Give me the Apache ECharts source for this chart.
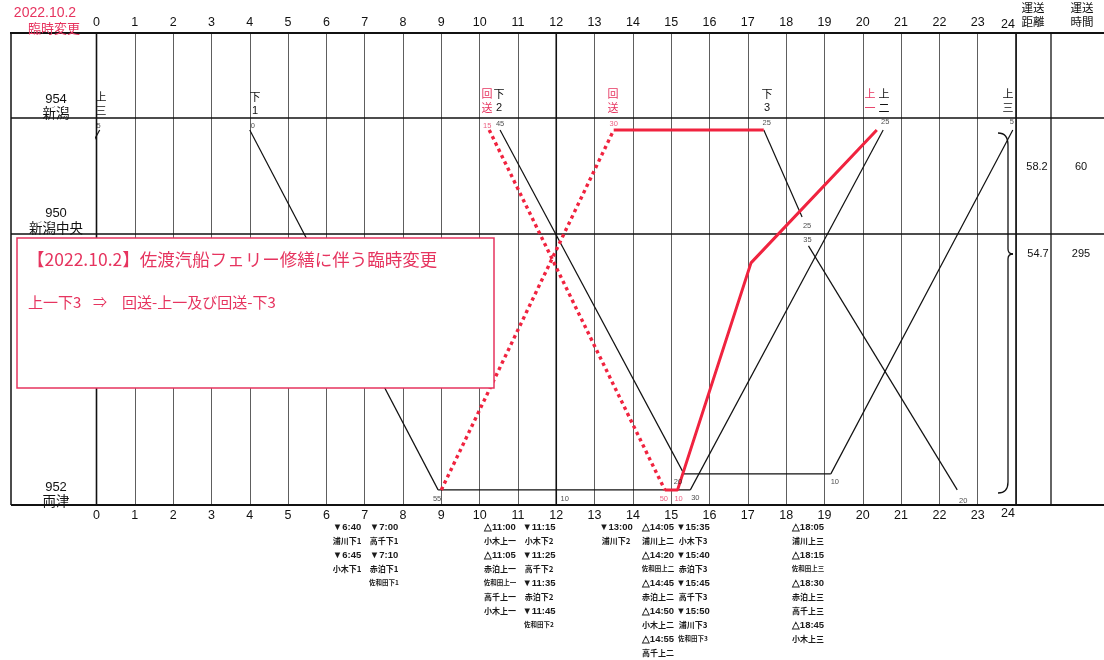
<!DOCTYPE html>
<html><head><meta charset="utf-8">
<script src="https://cdn.jsdelivr.net/npm/echarts@6/dist/echarts.min.js"></script>
<style>html,body{margin:0;padding:0;background:#fff}#c{width:1104px;height:660px}</style>
</head><body><div id="c"></div>
<script>
// ---- tick labels ----
const hourLabels = ['0','1','2','3','4','5','6','7','8','9','10','11','12','13','14','15','16','17','18','19','20','21','22','23','24'];

// ---- station / row levels (position on the vertical scale, 0 = top border, 100 = bottom border) ----
const levelNames  = ['niigata','niigataDep','chuoArr','chuo','chuoDep','redBend','ryotsuUp','ryotsuLow'];
const levelValues = [18.0, 20.55, 39.0, 42.6, 45.1, 48.7, 93.4, 96.8];

const stationCodes = ['954','950','952'];
const stationNames = ['新潟','新潟中央','両津'];

// ---- regular (black) runs: [time, level] ----
const tripJo3Prev = [['-4:50','ryotsuUp'],['0:05','niigataDep']];
const tripGe1     = [['4:00','niigataDep'],['8:55','ryotsuLow']];
const berthLow    = [['8:55','ryotsuLow'],['15:30','ryotsuLow']];
const tripGe2     = [['10:32','niigataDep'],['15:20','ryotsuUp']];
const tripJo2     = [['15:30','ryotsuLow'],['20:32','niigataDep']];
const berthUp     = [['15:20','ryotsuUp'],['19:10','ryotsuUp']];
const tripJo3     = [['19:10','ryotsuUp'],['23:55','niigataDep']];
const tripGe3a    = [['17:25','niigataDep'],['18:25','chuoArr']];
const tripGe3b    = [['18:35','chuoDep'],['22:28','ryotsuLow']];

// ---- temporary change (red) runs ----
const deadheadA   = [['10:15','niigataDep'],['14:50','ryotsuLow']];
const deadheadB   = [['9:00','ryotsuLow'],['13:30','niigataDep']];
const redWait     = [['13:30','niigataDep'],['17:25','niigataDep']];
const redJo1      = [['14:50','ryotsuLow'],['15:10','ryotsuLow'],['17:05','redBend'],['20:22','niigataDep']];

// ---- minute labels: [time, level, text, colour, dx, dy] ----
const minuteLabels = [
  ['0:05','niigataDep','5','k',-1,-4],
  ['4:00','niigataDep','0','k',3,-4],
  ['10:15','niigataDep','15','r',-2,-4],
  ['10:32','niigataDep','45','k',0,-6],
  ['13:30','niigataDep','30','r',0,-6],
  ['17:25','niigataDep','25','k',3,-7],
  ['18:25','chuoArr','25','k',5,9],
  ['18:35','chuoDep','35','k',-1,-6],
  ['20:32','niigataDep','25','k',2,-8],
  ['23:55','niigataDep','5','k',-1,-8],
  ['8:55','ryotsuLow','55','k',-1,9],
  ['12:10','ryotsuLow','10','k',2,9],
  ['14:50','ryotsuLow','50','r',-1,9],
  ['15:10','ryotsuLow','10','r',1,9],
  ['15:20','ryotsuUp','20','k',-6,8],
  ['15:30','ryotsuLow','30','k',5,8],
  ['19:10','ryotsuUp','10','k',4,8],
  ['22:28','ryotsuLow','20','k',6,11]
];

// ---- run titles above 新潟 ----
const runTitleTop    = ['上','下','回','下','回','下','上','上','上'];
const runTitleBottom = ['三','1','送','2','送','3','一','二','三'];
const runTitleRed    = [false,false,true,false,true,false,true,false,false];

// ---- distance / time columns ----
const distValues = ['58.2','54.7'];
const timeValues = ['60','295'];

// ---- notes below the chart ----
const noteCol1 = ['▼6:40','浦川下1','▼6:45','小木下1'];
const noteCol2 = ['▼7:00','高千下1','▼7:10','赤泊下1','佐和田下1'];
const noteCol3 = ['△11:00','小木上一','△11:05','赤泊上一','佐和田上一','高千上一','小木上一'];
const noteCol4 = ['▼11:15','小木下2','▼11:25','高千下2','▼11:35','赤泊下2','▼11:45','佐和田下2'];
const noteCol5 = ['▼13:00','浦川下2'];
const noteCol6 = ['△14:05','浦川上二','△14:20','佐和田上二','△14:45','赤泊上二','△14:50','小木上二','△14:55','高千上二'];
const noteCol7 = ['▼15:35','小木下3','▼15:40','赤泊下3','▼15:45','高千下3','▼15:50','浦川下3','佐和田下3'];
const noteCol8 = ['△18:05','浦川上三','△18:15','佐和田上三','△18:30','赤泊上三','高千上三','△18:45','小木上三'];

const boxTitle = '【2022.10.2】佐渡汽船フェリー修繕に伴う臨時変更';
const boxLine2 = ['上一下3', '⇒', '回送-上一及び回送-下3'];

// ================= rendering =================
const RED = '#f0233f';
const PINK = '#e6345f';
const FONT = '"Noto Sans CJK JP", "Noto Sans", sans-serif';
const LAT = '"Liberation Sans", sans-serif';
function hm(s){ const neg = s[0]==='-'; const p = s.replace('-','').split(':'); const v = (+p[0]) + (+p[1])/60; return neg ? -v : v; }
function lv(n){ return typeof n === 'number' ? n : levelValues[levelNames.indexOf(n)]; }
function pts(a){ return a.map(d => [hm(d[0]), lv(d[1])]); }

const chart = echarts.init(document.getElementById('c'), null, {renderer:'canvas'});
const GRID = {left:96.5, right:88, top:33, bottom:155};

function runSeries(data, color, width, type, name){
  return {type:'line', name, data:pts(data), xAxisIndex:0, yAxisIndex:0, symbol:'none', clip:true,
    lineStyle:{color, width, type, cap:'butt'}, z: color===RED?4:3, silent:true};
}
const series = [
  runSeries(tripJo3Prev,'#111',1.2,'solid','上三前日'),
  runSeries(tripGe1,'#111',1.2,'solid','下1'),
  runSeries(berthLow,'#111',1.2,'solid','停泊'),
  runSeries(tripGe2,'#111',1.2,'solid','下2'),
  runSeries(tripJo2,'#111',1.2,'solid','上二'),
  runSeries(berthUp,'#111',1.2,'solid','停泊2'),
  runSeries(tripJo3,'#111',1.2,'solid','上三'),
  runSeries(tripGe3a,'#111',1.2,'solid','下3a'),
  runSeries(tripGe3b,'#111',1.2,'solid','下3b'),
  runSeries(deadheadA,RED,3.4,[3.4,3.6],'回送A'),
  runSeries(deadheadB,RED,3.4,[3.4,3.6],'回送B'),
  runSeries(redWait,RED,3,'solid','回送待機'),
  runSeries(redJo1,RED,3,'solid','上一'),
  {type:'scatter', name:'min', clip:false, symbol:'circle', symbolSize:1, itemStyle:{color:'rgba(0,0,0,0)'}, z:6, silent:true,
   data: minuteLabels.map(m => ({value:[hm(m[0]), lv(m[1])],
     label:{show:true, position:'inside', formatter:m[2], offset:[m[4],m[5]], fontSize:7.5, fontFamily:LAT, color: m[3]==='r'?PINK:'#222'}}))}
];

const axisLbl = {fontSize:12.5, margin:4, color:'#111', fontFamily:LAT, formatter:v=> v===24 ? '' : hourLabels[v]};
chart.setOption({
  animation:false,
  grid: GRID,
  xAxis:[
    {type:'value', min:0, max:24, interval:1, position:'bottom', axisLine:{show:false}, axisTick:{show:false},
     axisLabel:axisLbl, splitLine:{show:true, lineStyle:{color:'#5e5e5e', width:1}}},
    {type:'value', min:0, max:24, interval:1, position:'top', axisLine:{show:false}, axisTick:{show:false},
     axisLabel:axisLbl, splitLine:{show:false}}
  ],
  yAxis:{type:'value', min:0, max:100, inverse:true, show:false},
  series
});

// ---------- table frame, texts and notes ----------
const px = (t, v) => chart.convertToPixel({gridIndex:0}, [t, v]);
const g = [];
const W = 1104;
const yTop = px(0,0)[1], yBot = px(0,100)[1];
const x0 = px(0,0)[0], x12 = px(12,0)[0], x24 = px(24,0)[0];
const yN = px(0, lv('niigata'))[1], yC = px(0, lv('chuo'))[1];
function L(x1,y1,x2,y2,w,c,z){ g.push({type:'line', z:z||1, silent:true, shape:{x1,y1,x2,y2}, style:{stroke:c||'#111', lineWidth:w||1.2}}); }
function T(x,y,text,opt){ opt=opt||{}; g.push({type:'text', z:opt.z||5, silent:true, style:{x,y,text,fill:opt.c||'#111', fontSize:opt.s||12, fontFamily:opt.f||FONT, fontWeight:opt.w||'normal', textAlign:opt.a||'center', textVerticalAlign:'middle'}}); }

L(10,yTop,W,yTop,2);
L(11,yTop,11,yBot,1.5);
L(11,yN,W,yN,1.6);
L(11,yC,W,yC,1.6);
L(11,yBot,W,yBot,2);
L(x0,yTop,x0,yBot,1.6);
L(x12,yTop,x12,yBot,1.6);
L(x24,yTop,x24,yBot,1.6);
L(1051,yTop,1051,yBot,1.3);

// 24 hour labels placed left of the column border
T(1008,25,hourLabels[24],{s:12.5,f:LAT});
T(1008,514,hourLabels[24],{s:12.5,f:LAT});

// header
T(45,13,'2022.10.2',{c:PINK,s:14,f:LAT});
T(54,28,'臨時変更',{c:PINK,s:13});
T(1033,8,'運送',{s:11.5}); T(1033,22,'距離',{s:11.5});
T(1082,8,'運送',{s:11.5}); T(1082,22,'時間',{s:11.5});

// station labels
const stY = [[99,113],[213,228],[487,501]];
stationCodes.forEach((c,i)=>{ T(56,stY[i][0],c,{s:13,f:LAT}); T(56,stY[i][1],stationNames[i],{s:13.5}); });

// run titles
const titleX = [101,255,487,499,613,767,870,884,1008];
runTitleTop.forEach((t,i)=>{
  const col = runTitleRed[i]?PINK:'#111';
  const y0 = i===0||i===1 ? 97 : 94;
  T(titleX[i], y0, t, {c:col, s:11});
  T(titleX[i], y0+14, runTitleBottom[i], {c:col, s:11, f: /\d/.test(runTitleBottom[i])?LAT:FONT});
});

// distance / time
T(1037,167,distValues[0],{s:11,f:LAT}); T(1081,167,timeValues[0],{s:11,f:LAT});
T(1038,254,distValues[1],{s:11,f:LAT}); T(1081,254,timeValues[1],{s:11,f:LAT});

// brace
function B(x1,y1,cx,cy,x2,y2){ g.push({type:'bezierCurve', z:2, silent:true, shape:{x1,y1,x2,y2,cpx1:cx,cpy1:cy}, style:{stroke:'#111', lineWidth:1.3, fill:null}}); }
B(998,133,1008,133,1008,145); L(1008,145,1008,249,1.3);
B(1008,249,1008,254,1013,254); B(1013,254,1008,254,1008,259);
L(1008,259,1008,482,1.3); B(1008,482,1008,493,998,493);

// notice box
g.push({type:'rect', z:50, silent:true, shape:{x:17,y:238,width:477,height:150}, style:{fill:'#fff', stroke:PINK, lineWidth:1.5}});
T(27,259,boxTitle,{c:PINK,s:17.5,a:'left',z:51});
T(28,302,boxLine2[0],{c:PINK,s:15,a:'left',z:51});
T(93,302,boxLine2[1],{c:PINK,s:14,a:'left',z:51});
T(122,302,boxLine2[2],{c:PINK,s:15,a:'left',z:51});

// notes
const noteCols = [noteCol1,noteCol2,noteCol3,noteCol4,noteCol5,noteCol6,noteCol7,noteCol8];
const noteX = [347,384,500,539,616,658,693,808];
noteCols.forEach((col,ci)=>{
  col.forEach((t,ri)=>{
    const small = t.startsWith('佐和田');
    const isTime = /[▼△]/.test(t);
    T(noteX[ci], 527+14*ri, t, {s: small?6.5:(isTime?9.5:8), c:'#1a1a1a', w:'bold', f: isTime?LAT:FONT});
  });
});

chart.setOption({graphic:g});
</script></body></html>
